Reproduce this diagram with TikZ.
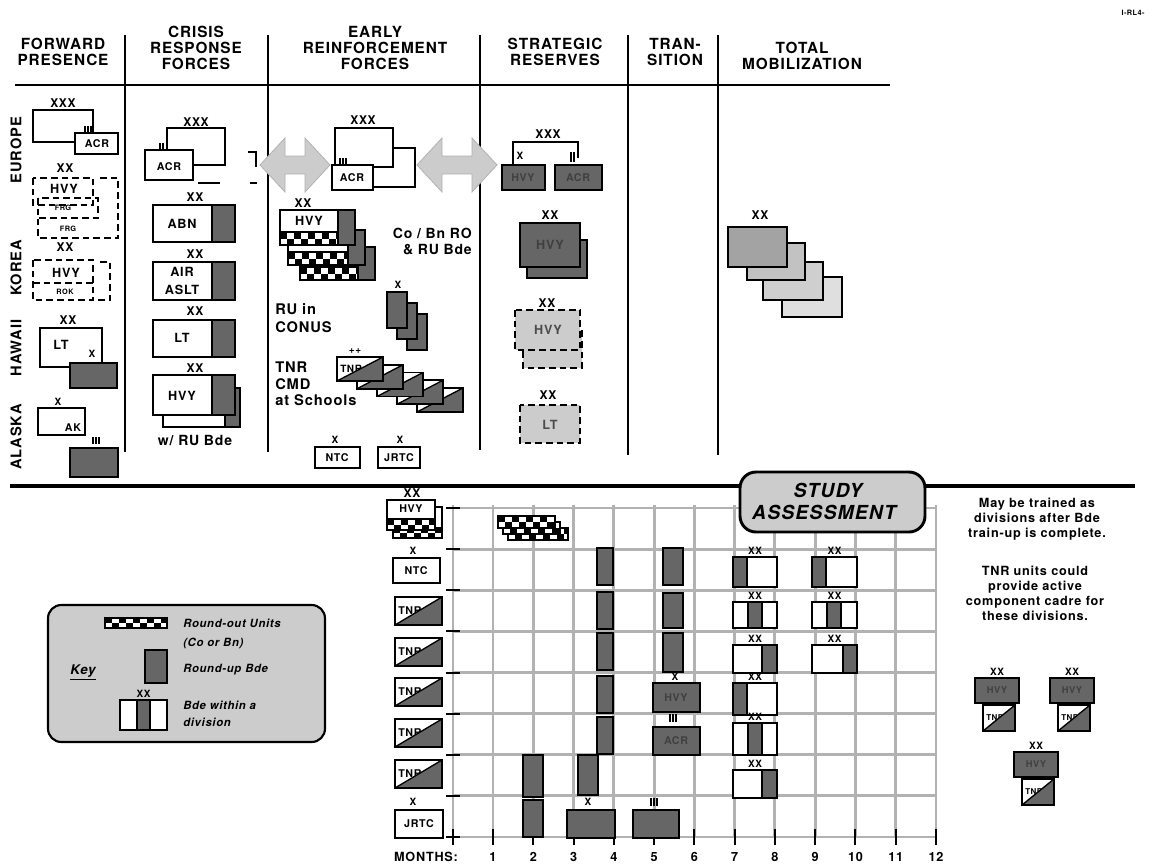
\documentclass[tikz,border=0pt]{standalone}
\usepackage{fontspec}
\setmainfont{TeX Gyre Heros}[LetterSpace=6]
\definecolor{dk}{gray}{0.40}
\definecolor{lt}{gray}{0.80}
\definecolor{grd}{gray}{0.70}
\newcommand\Chk[4]{%
 \pgfmathsetmacro\cka{#1}\pgfmathsetmacro\ckb{#2}\pgfmathsetmacro\ckc{#3}\pgfmathsetmacro\ckd{#4}\pgfmathsetmacro\ckm{(\ckb+\ckd)/2}%
 \begin{scope}\clip (\cka,\ckb) rectangle (\ckc,\ckd);
 \fill[white] (\cka,\ckb) rectangle (\ckc,\ckd);
 \foreach \i in {0,2,...,12}{\fill[black] ({\cka+\i*7},\ckb) rectangle ({\cka+\i*7+7},\ckm);
   \fill[black] ({\cka+\i*7+7},\ckm) rectangle ({\cka+\i*7+14},\ckd);}
 \end{scope}}
\newcommand\HvyBox[4]{%
 \fill[white] (#1,#2) rectangle (#3,#4);
 \Chk{#1}{#4-13}{#3-17}{#4}%
 \pgfmathsetmacro\hvs{#3-17}\pgfmathsetmacro\hvb{#4-13}%
 \filldraw[fill=dk, line width=1.3pt] (\hvs,#2) rectangle (#3,#4);
 \draw[line width=1.3pt] (#1,#2) rectangle (#3,#4);
 \draw[line width=1pt] (#1,\hvb) -- (\hvs,\hvb);}
\newcommand\TnrBox[6]{%
 \pgfmathsetmacro\ta{#2}\pgfmathsetmacro\tb{#3}\pgfmathsetmacro\tc{#4}\pgfmathsetmacro\td{#5}%
 \fill[white] (\ta,\tb) rectangle (\tc,\td);
 \node[font=\fontsize{#6}{#6}\selectfont\bfseries, inner sep=0pt, anchor=west] (#1) at ({\ta+3},{(\tb+\td)/2}) {TNR};
 \fill[dk] (\ta,\td) -- (\tc,\tb) -- (\tc,\td) -- cycle;
 \draw[line width=1pt] (\ta,\td) -- (\tc,\tb);
 \draw[line width=1.3pt] (\ta,\tb) rectangle (\tc,\td);}
\newcommand\RUBox[5]{%
 \filldraw[fill=white, line width=1.3pt] (#1,#2) rectangle (#3,#4);
 \filldraw[fill=dk, line width=1.3pt] (#5,#2) rectangle (#3,#4);}
\newcommand\DivBox[7]{%
 \filldraw[fill=white, line width=1.3pt] (#2,#3) rectangle (#4,#5);
 \filldraw[fill=dk, line width=1.3pt] (#6,#3) rectangle (#7,#5);
 \draw[line width=1.3pt] (#2,#3) rectangle (#4,#5);
 \node[font=\fontsize{7.5}{7.5}\selectfont\bfseries, inner sep=0pt] (#1) at ({(#2+#4)/2},{#3-6}) {XX};}
\newcommand\DivTnr[3]{%
 \pgfmathsetmacro\dxa{#2}\pgfmathsetmacro\dya{#3}%
 \node[font=\fontsize{7.5}{7.5}\selectfont\bfseries, inner sep=0pt] (#1x) at ({\dxa+22},{\dya-6}) {XX};
 \filldraw[fill=dk, line width=1.3pt] (\dxa,\dya) rectangle ({\dxa+44},{\dya+25});
 \node[font=\fontsize{7}{7}\selectfont\bfseries, text=black!75, inner sep=0pt] (#1h) at ({\dxa+22},{\dya+12.5}) {HVY};
 \TnrBox{#1t}{\dxa+8}{\dya+27}{\dxa+40}{\dya+53}{6}}
\begin{document}
\begin{tikzpicture}[x=0.75pt,y=-0.75pt,
  lw/.style={line width=1.3pt},
  ub/.style={draw, fill=white, line width=1.3pt},
  dkb/.style={draw, fill=dk, line width=1.3pt},
  dsh/.style={draw, line width=1.4pt, dash pattern=on 5pt off 3pt},
  grid/.style={draw=grd, line width=2.2pt},
  hd/.style={font=\fontsize{11.5}{12}\selectfont\bfseries, align=center, inner sep=0pt},
  ech/.style={font=\fontsize{9}{9}\selectfont\bfseries, inner sep=0pt},
  ech2/.style={font=\fontsize{7.5}{7.5}\selectfont\bfseries, inner sep=0pt},
  ul/.style={font=\fontsize{9.5}{9.5}\selectfont\bfseries, inner sep=0pt},
  ul2/.style={font=\fontsize{8}{8}\selectfont\bfseries, inner sep=0pt},
  tiny/.style={font=\fontsize{5.5}{5.5}\selectfont\bfseries, inner sep=0pt},
  tx/.style={font=\fontsize{10.5}{13}\selectfont\bfseries, inner sep=0pt, align=left},
  side/.style={font=\fontsize{11}{11}\selectfont\bfseries, inner sep=0pt, rotate=90},
  note/.style={font=\fontsize{9.5}{11.3}\selectfont\bfseries, inner sep=0pt, align=center},
  keyt/.style={font=\fontsize{8.5}{8.5}\selectfont\bfseries\itshape, inner sep=0pt, anchor=west},
  arr/.style={fill=gray!40, draw=gray!60, line width=0.6pt}]
\useasboundingbox (0,0) rectangle (1153,864);
\fill[white] (0,0) rectangle (1153,864);
% ---------- header ----------
\node[font=\fontsize{5.5}{5.5}\selectfont\bfseries, inner sep=0pt] (tag) at (1133,13) {I-RL4-};
\node[hd] (h1) at (63,52) {FORWARD\\PRESENCE};
\node[hd] (h2) at (196,48) {CRISIS\\RESPONSE\\FORCES};
\node[hd] (h3) at (375,48) {EARLY\\REINFORCEMENT\\FORCES};
\node[hd] (h4) at (555,52) {STRATEGIC\\RESERVES};
\node[hd] (h5) at (675,52) {TRAN-\\SITION};
\node[hd] (h6) at (802,56) {TOTAL\\MOBILIZATION};
\draw[line width=2.2pt] (15,85) -- (890,85);
\draw[line width=1.6pt] (125,35) -- (125,452) (268,35) -- (268,452) (480,35) -- (480,450) (628,35) -- (628,455) (718,35) -- (718,455);
\draw[line width=3pt] (10,486) -- (740,486) (925,486) -- (1135,486);
% ---------- side labels ----------
\node[side] (sEu) at (16,150) {EUROPE};
\node[side] (sKo) at (16,268) {KOREA};
\node[side] (sHa) at (16,348) {HAWAII};
\node[side] (sAl) at (16,437) {ALASKA};
% ---------- forward presence ----------
\node[ech] (fpxxx) at (63,103) {XXX};
\draw[ub] (33,110) rectangle (93,142);
\draw[ub] (75,133) rectangle (118,154);
\node[ul2] (fpacr) at (97,144) {ACR};
\draw[line width=0.8pt] (85,126)--(85,133) (88,126)--(88,133) (91,126)--(91,133);
\node[ech] (fpxx1) at (65,168) {XX};
\draw[dsh] (33,178) rectangle (93,205);
\node[ul] (fphvy1) at (64,189) {HVY};
\draw[dsh] (38,198) rectangle (98,218);
\node[tiny] (fpfrg1) at (63,208) {FRG};
\draw[dsh] (100,178) -- (118,178) -- (118,238) -- (38,238) -- (38,218);
\node[tiny] (fpfrg2) at (68,229) {FRG};
\node[ech] (fpxx2) at (65,247) {XX};
\draw[dsh] (33,260) rectangle (93,300);
\draw[dsh] (100,262) -- (110,262) -- (110,300) -- (93,300);
\draw[dsh] (33,283) -- (93,283);
\node[ul] (fphvy2) at (66,273) {HVY};
\node[tiny] (fprok) at (65,292) {ROK};
\node[ech] (fpxx3) at (68,320) {XX};
\draw[ub] (40,328) rectangle (102,367);
\node[ul] (fplt) at (61,345) {LT};
\node[ech2] (fpx1) at (92,354) {X};
\draw[dkb] (70,363) rectangle (117,388);
\node[ech2] (fpx2) at (58,402) {X};
\draw[ub] (38,408) rectangle (85,435);
\node[ul2] (fpak) at (73,428) {AK};
\draw[line width=0.8pt] (93,437)--(93,444) (96,437)--(96,444) (99,437)--(99,444);
\draw[dkb] (70,448) rectangle (118,477);
% ---------- crisis response ----------
\node[ech] (crxxx) at (196,122) {XXX};
\draw[ub] (167,128) rectangle (225,165);
\draw[ub] (145,150) rectangle (193,180);
\node[ul2] (cracr) at (169,167) {ACR};
\draw[line width=0.8pt] (160,143)--(160,150) (163,143)--(163,150);
\draw[lw] (198,183)--(220,183) (248,152)--(256,152)--(256,167) (250,183)--(257,183);
\node[ech] (crxx1) at (195,197) {XX};
\RUBox{153}{205}{235}{242}{212}
\node[ul] (crabn) at (182,224) {ABN};
\node[ech] (crxx2) at (195,254) {XX};
\RUBox{153}{262}{235}{300}{212}
\node[ul, align=center, font=\fontsize{9.5}{13}\selectfont\bfseries] (crair) at (182,281) {AIR\\ASLT};
\node[ech] (crxx3) at (195,311) {XX};
\RUBox{153}{320}{235}{357}{212}
\node[ul] (crlt) at (182,338) {LT};
\node[ech] (crxx4) at (195,368) {XX};
\RUBox{163}{388}{240}{427}{225}
\RUBox{153}{375}{235}{415}{212}
\node[ul] (crhvy) at (182,396) {HVY};
\node[tx] (crwru) at (195,440) {w/ RU Bde};
% ---------- early reinforcement ----------
\node[ech] (erxxx) at (363,120) {XXX};
\draw[ub] (363,148) rectangle (415,187);
\draw[ub] (335,128) rectangle (393,167);
\draw[ub] (332,165) rectangle (373,190);
\node[ul2] (eracr) at (352,178) {ACR};
\draw[line width=0.8pt] (340,158)--(340,165) (343,158)--(343,165) (346,158)--(346,165);
\filldraw[arr] (260,165)--(285,138)--(285,156)--(305,156)--(305,138)--(330,165)--(305,192)--(305,174)--(285,174)--(285,192)--cycle;
\filldraw[arr] (417,165)--(442,138)--(442,156)--(472,156)--(472,138)--(497,165)--(472,192)--(472,174)--(442,174)--(442,192)--cycle;
\node[ech] (erxx) at (303,203) {XX};
\HvyBox{300}{247}{375}{280}
\HvyBox{288}{230}{365}{265}
\HvyBox{280}{210}{355}{245}
\node[ul] (erhvy) at (309,221) {HVY};
\node[tx, anchor=east] (erco) at (472,233) {Co / Bn RO};
\node[tx, anchor=east] (erru2) at (472,250) {\& RU Bde};
\node[ech2] (erx1) at (398,285) {X};
\draw[dkb] (407,314) rectangle (427,350);
\draw[dkb] (397,303) rectangle (417,339);
\draw[dkb] (387,292) rectangle (407,328);
\node[tx, anchor=west, font=\fontsize{11}{14}\selectfont\bfseries] (erru) at (275,318) {RU in\\CONUS};
\node[tx, anchor=west, font=\fontsize{11}{12.3}\selectfont\bfseries] (ertnr) at (275,384) {TNR\\CMD\\at Schools};
\node[ech2] (erpp) at (355,351) {++};
\foreach \i in {4,3,2,1,0} {\TnrBox{ert\i}{337+20*\i}{357+7.75*\i}{383+20*\i}{381+7.75*\i}{7.5}}
\node[ech2] (erx2) at (335,440) {X};
\draw[ub] (315,447) rectangle (360,468);
\node[ul2] (erntc) at (337,458) {NTC};
\node[ech2] (erx3) at (400,440) {X};
\draw[ub] (378,447) rectangle (420,468);
\node[ul2] (erjrtc) at (399,458) {JRTC};
% ---------- strategic reserves ----------
\draw[lw] (513,165)--(513,142)--(578,142)--(578,158);
\node[ech] (srxxx) at (548,134) {XXX};
\node[ech2] (srx) at (520,156) {X};
\draw[line width=0.8pt] (571,152)--(571,162) (574,152)--(574,162);
\draw[dkb] (502,165) rectangle (545,190);
\node[ul2, text=black!75] (srhvy1) at (523,178) {HVY};
\draw[dkb] (555,165) rectangle (602,190);
\node[ul2, text=black!75] (sracr) at (578,178) {ACR};
\node[ech] (srxx1) at (550,215) {XX};
\draw[dkb] (527,240) rectangle (587,278);
\draw[dkb] (520,223) rectangle (580,267);
\node[ul, text=black!75] (srhvy2) at (550,245) {HVY};
\node[ech] (srxx2) at (547,303) {XX};
\filldraw[dsh, fill=lt] (523,330) rectangle (582,368);
\filldraw[dsh, fill=lt] (515,310) rectangle (580,350);
\node[ul, text=black!70] (srhvy3) at (548,330) {HVY};
\node[ech] (srxx3) at (548,395) {XX};
\filldraw[dsh, fill=lt] (520,405) rectangle (580,443);
\node[ul, text=black!70] (srlt) at (550,425) {LT};
% ---------- total mobilization ----------
\node[ech] (tmxx) at (760,215) {XX};
\filldraw[fill=gray!25, lw] (782,277) rectangle (842,317);
\filldraw[fill=gray!38, lw] (763,262) rectangle (823,300);
\filldraw[fill=gray!48, lw] (747,243) rectangle (805,280);
\filldraw[fill=gray!72, lw] (728,227) rectangle (787,267);
% ---------- grid ----------
\foreach \k in {1,...,12} {\draw[grid] ({493+40.27*(\k-1)},505) -- ({493+40.27*(\k-1)},837);}
\draw[grid] (453,505) -- (453,837);
\foreach \j in {0,...,7} {\draw[grid] (453,{508+41.13*\j}) -- (936,{508+41.13*\j});}
\draw[grid] (453,837) -- (936,837);
\foreach \j in {0,...,7} {\draw[line width=1.5pt] (446,{508+41.13*\j}) -- (460,{508+41.13*\j});}
\draw[line width=1.5pt] (446,837) -- (460,837) (453,829) -- (453,845);
\foreach \k in {1,...,12} {\draw[line width=1.5pt] ({493+40.27*(\k-1)},829) -- ({493+40.27*(\k-1)},845);}
\node[ul] (mlab) at (426,857) {MONTHS:};
\foreach \k in {1,...,12} {\node[ul] (m\k) at ({493+40.27*(\k-1)},857) {\k};}
% ---------- row labels ----------
\node[ech] (bxx) at (412,493) {XX};
\fill[white] (393,507) rectangle (442,538);
\Chk{393}{527}{442}{538}
\draw[lw] (393,507) rectangle (442,538);
\fill[white] (387,500) rectangle (435,530);
\Chk{387}{519}{435}{530}
\draw[lw] (387,500) rectangle (435,530);
\draw[line width=1pt] (387,519) -- (435,519);
\node[ul2] (bhvy) at (411,509) {HVY};
\node[ech2] (bx1) at (413,551) {X};
\draw[ub] (393,558) rectangle (440,583);
\node[ul2] (bntc) at (416,571) {NTC};
\foreach \r [count=\c] in {597,638,678,719,760} {\TnrBox{btnr\c}{395}{\r}{442}{\r+28}{8}}
\node[ech2] (bx2) at (413,802) {X};
\draw[ub] (395,810) rectangle (443,838);
\node[ul2] (bjrtc) at (419,824) {JRTC};
% ---------- chart contents ----------
\Chk{508}{528}{568}{540}\draw[lw] (508,528) rectangle (568,540);
\Chk{503}{522}{560}{534}\draw[lw] (503,522) rectangle (560,534);
\Chk{498}{516}{555}{528}\draw[lw] (498,516) rectangle (555,528);
\foreach \t in {548,592,633,676,717} {\draw[dkb] (597,\t) rectangle (613,{\t+37});}
\draw[dkb] (663,548) rectangle (683,585);
\draw[dkb] (663,593) rectangle (683,628);
\draw[dkb] (663,633) rectangle (683,672);
\node[ech2] (cx1) at (675,677) {X};
\draw[dkb] (653,683) rectangle (700,712);
\node[ul2, text=black!75] (chvy) at (676,698) {HVY};
\draw[line width=0.8pt] (670,714)--(670,722) (673,714)--(673,722) (676,714)--(676,722);
\draw[dkb] (653,727) rectangle (700,755);
\node[ul2, text=black!75] (cacr) at (676,741) {ACR};
\draw[dkb] (523,755) rectangle (543,797);
\draw[dkb] (523,800) rectangle (543,837);
\draw[dkb] (578,755) rectangle (598,795);
\node[ech2] (cx2) at (588,802) {X};
\draw[dkb] (567,810) rectangle (615,838);
\draw[line width=0.8pt] (651,798)--(651,806) (654,798)--(654,806) (657,798)--(657,806);
\draw[dkb] (633,810) rectangle (679,838);
\DivBox{d1}{733}{557}{777}{587}{733}{747}
\DivBox{d2}{733}{602}{777}{628}{748}{762}
\DivBox{d3}{733}{645}{777}{673}{762}{777}
\DivBox{d4}{733}{683}{777}{715}{733}{747}
\DivBox{d5}{733}{723}{777}{755}{748}{762}
\DivBox{d6}{733}{770}{777}{798}{762}{777}
\DivBox{d7}{812}{557}{857}{587}{812}{826}
\DivBox{d8}{812}{602}{857}{628}{827}{841}
\DivBox{d9}{812}{645}{857}{673}{843}{857}
% ---------- study assessment ----------
\draw[fill=lt, line width=2.2pt, rounded corners=12pt] (740,472) rectangle (925,532);
\node[font=\fontsize{14.5}{14.5}\selectfont\bfseries\itshape, inner sep=0pt] (st1) at (828,490) {STUDY};
\node[font=\fontsize{14.5}{14.5}\selectfont\bfseries\itshape, inner sep=0pt] (st2) at (824,512) {ASSESSMENT};
% ---------- notes ----------
\node[note] (n1) at (1037,519) {May be trained as\\divisions after Bde\\train-up is complete.};
\node[note] (n2) at (1035,593) {TNR units could\\provide active\\component cadre for\\these divisions.};
\DivTnr{g1}{975}{678}
\DivTnr{g2}{1050}{678}
\DivTnr{g3}{1014}{752}
% ---------- key ----------
\draw[fill=lt, line width=1.6pt, rounded corners=10pt] (48,605) rectangle (325,742);
\Chk{105}{618}{167}{628}\draw[lw] (105,618) rectangle (167,628);
\node[keyt] (k1) at (183,623) {Round-out Units};
\node[keyt] (k2) at (183,643) {(Co or Bn)};
\draw[dkb] (145,650) rectangle (167,683);
\node[keyt] (k3) at (183,670) {Round-up Bde};
\node[font=\fontsize{10}{10}\selectfont\bfseries\itshape, inner sep=0pt] (kkey) at (83,672) {\underline{Key}};
\DivBox{kxx}{120}{700}{167}{730}{137}{150}
\node[keyt] (k4) at (183,705) {Bde within a};
\node[keyt] (k5) at (183,722) {division};
\end{tikzpicture}
\end{document}
